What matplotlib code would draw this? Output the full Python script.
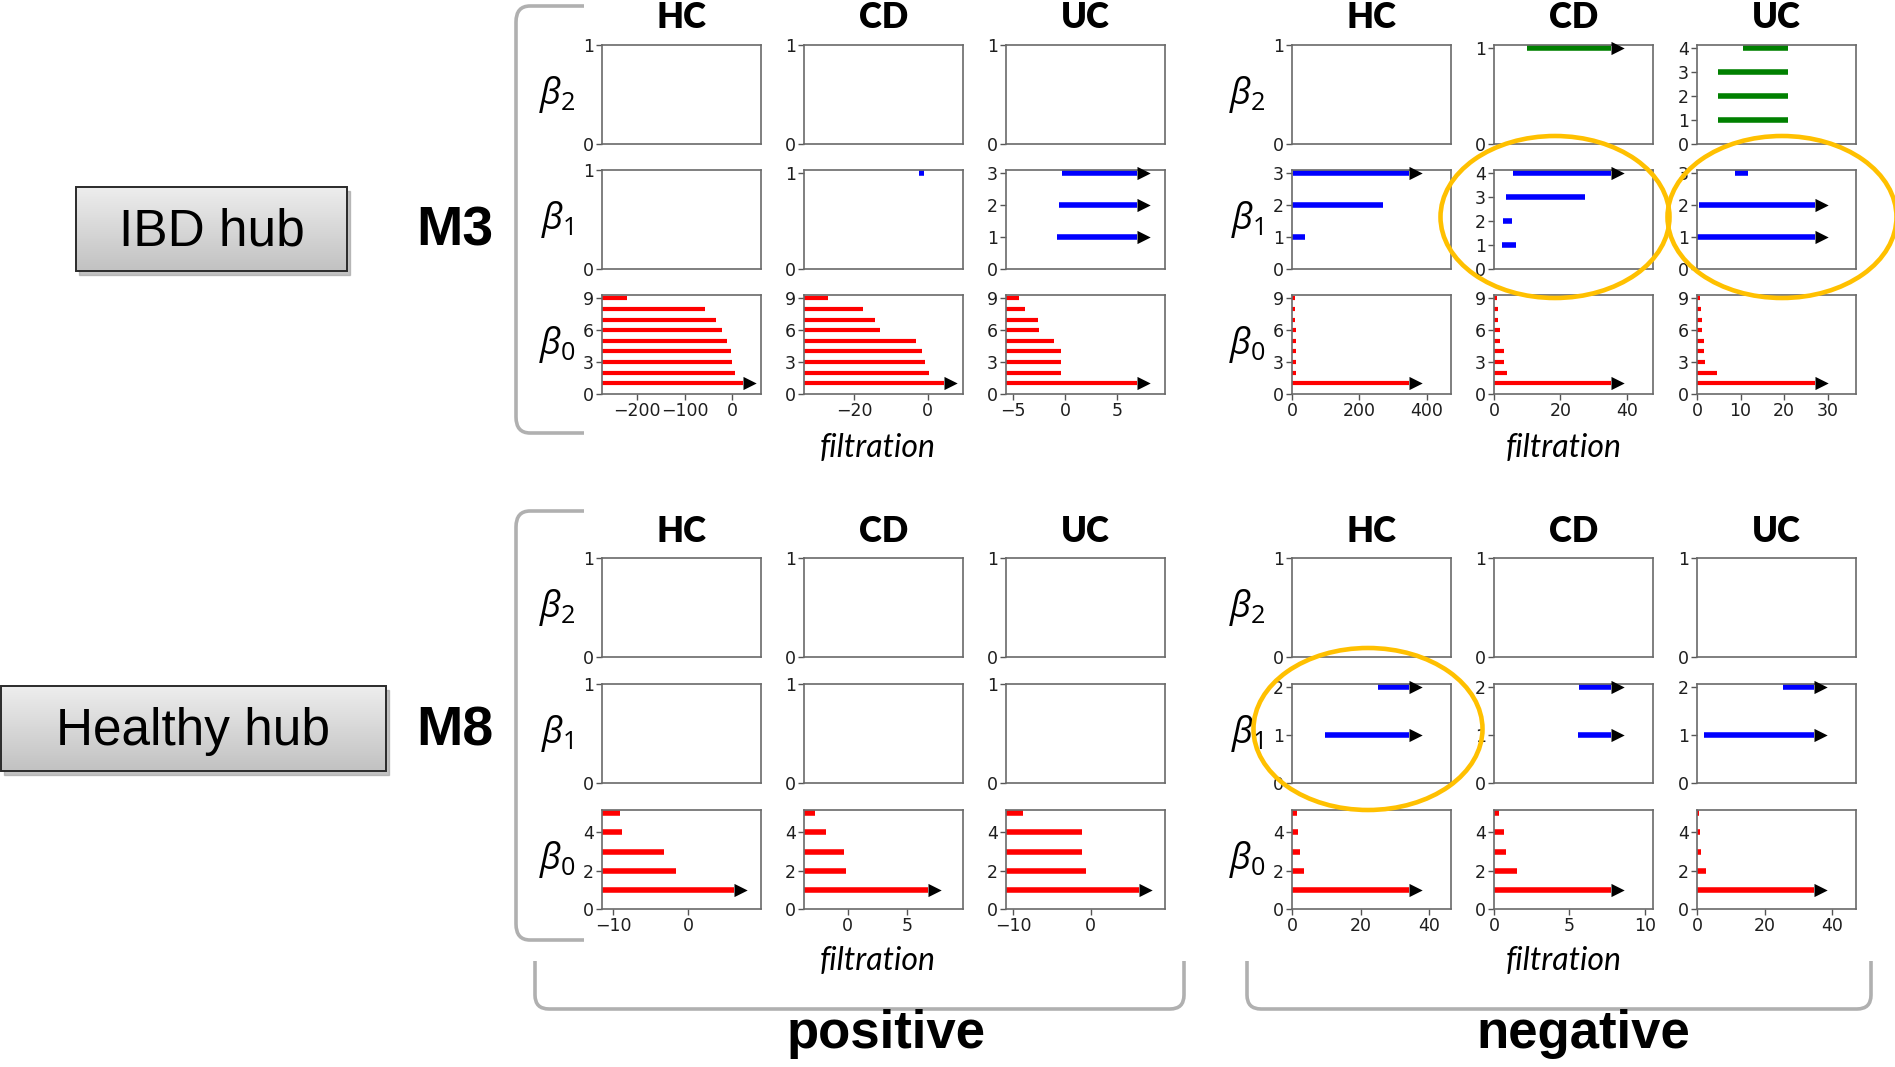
import numpy as np
import matplotlib
matplotlib.use("Agg")
import matplotlib.pyplot as plt
from matplotlib.path import Path
from matplotlib.patches import Ellipse, Rectangle, PathPatch

INF = np.inf

# ---------------- categories / labels ----------------
groups = ["HC", "CD", "UC"]
dims = [2, 1, 0]
modules = ["M3", "M8"]
hub_labels = ["IBD hub", "Healthy hub"]
signs = ["positive", "negative"]
dim_colors = {0: "#ff0000", 1: "#0000ff", 2: "#008000"}

# ================= M3, positive filtration =================
m3_pos_xlim = [(-273, 60), (-33.6, 9.6), (-5.64, 9.58)]
m3_pos_inf_end = [22, 4.5, 6.9]
m3_pos_xticks = [[-200, -100, 0], [-20, 0], [-5, 0, 5]]
m3_pos_HC_b0_birth = [-273] * 9
m3_pos_HC_b0_death = [INF, 5, -1, -3, -11, -22, -35, -58, -220]
m3_pos_CD_b0_birth = [-33.6] * 9
m3_pos_CD_b0_death = [INF, 0.3, -0.8, -1.6, -3.3, -12.9, -14.2, -17.7, -27.0]
m3_pos_CD_b1_birth = [-2.25]
m3_pos_CD_b1_death = [-0.95]
m3_pos_UC_b0_birth = [-5.64] * 9
m3_pos_UC_b0_death = [INF, -0.4, -0.4, -0.4, -1.05, -2.5, -2.55, -3.8, -4.4]
m3_pos_UC_b1_birth = [-0.73, -0.6, -0.3]
m3_pos_UC_b1_death = [INF, INF, INF]

# ================= M3, negative filtration =================
m3_neg_xlim = [(0, 472), (0, 47.9), (0, 36.5)]
m3_neg_inf_end = [346, 35.3, 27.1]
m3_neg_xticks = [[0, 200, 400], [0, 20, 40], [0, 10, 20, 30]]
m3_neg_HC_b0_birth = [0] * 9
m3_neg_HC_b0_death = [INF, 12, 11, 11, 10.5, 10.5, 10, 10, 9.5]
m3_neg_HC_b1_birth = [0, 0, 4]
m3_neg_HC_b1_death = [40, 269, INF]
m3_neg_CD_b0_birth = [0] * 9
m3_neg_CD_b0_death = [INF, 3.8, 3.1, 3.0, 1.8, 1.8, 1.3, 1.1, 1.0]
m3_neg_CD_b1_birth = [2.3, 2.8, 3.7, 5.6]
m3_neg_CD_b1_death = [6.5, 5.4, 27.4, INF]
m3_neg_CD_b2_birth = [10.0]
m3_neg_CD_b2_death = [INF]
m3_neg_UC_b0_birth = [0] * 9
m3_neg_UC_b0_death = [INF, 4.6, 1.8, 1.6, 1.5, 1.15, 1.15, 0.85, 0.77]
m3_neg_UC_b1_birth = [0, 0.4, 8.8]
m3_neg_UC_b1_death = [INF, INF, 11.7]
m3_neg_UC_b2_birth = [4.8, 4.8, 4.8, 10.5]
m3_neg_UC_b2_death = [20.8, 20.8, 20.8, 20.8]

# ================= M8, positive filtration =================
m8_pos_xlim = [(-11.47, 9.64), (-3.67, 9.67), (-10.95, 9.6)]
m8_pos_inf_end = [6.1, 6.7, 6.2]
m8_pos_xticks = [[-10, 0], [0, 5], [-10, 0]]
m8_pos_HC_b0_birth = [-11.47] * 5
m8_pos_HC_b0_death = [INF, -1.7, -3.3, -8.8, -9.1]
m8_pos_CD_b0_birth = [-3.67] * 5
m8_pos_CD_b0_death = [INF, -0.14, -0.28, -1.83, -2.78]
m8_pos_UC_b0_birth = [-10.95] * 5
m8_pos_UC_b0_death = [INF, -0.6, -1.16, -1.16, -8.7]

# ================= M8, negative filtration =================
m8_neg_xlim = [(0, 46.3), (0, 10.54), (0, 47.1)]
m8_neg_inf_end = [34.2, 7.74, 34.7]
m8_neg_xticks = [[0, 20, 40], [0, 5, 10], [0, 20, 40]]
m8_neg_HC_b0_birth = [0] * 5
m8_neg_HC_b0_death = [INF, 3.4, 2.2, 1.85, 1.45]
m8_neg_HC_b1_birth = [9.7, 25.1]
m8_neg_HC_b1_death = [INF, INF]
m8_neg_CD_b0_birth = [0] * 5
m8_neg_CD_b0_death = [INF, 1.55, 0.8, 0.63, 0.34]
m8_neg_CD_b1_birth = [5.6, 5.65]
m8_neg_CD_b1_death = [INF, INF]
m8_neg_UC_b0_birth = [0] * 5
m8_neg_UC_b0_death = [INF, 2.7, 1.2, 1.0, 0.7]
m8_neg_UC_b1_birth = [2.2, 25.4]
m8_neg_UC_b1_death = [INF, INF]

# ---------------- assemble lookup tables ----------------
bars = {
    ("M3", "positive", "HC", 0): (m3_pos_HC_b0_birth, m3_pos_HC_b0_death),
    ("M3", "positive", "CD", 0): (m3_pos_CD_b0_birth, m3_pos_CD_b0_death),
    ("M3", "positive", "CD", 1): (m3_pos_CD_b1_birth, m3_pos_CD_b1_death),
    ("M3", "positive", "UC", 0): (m3_pos_UC_b0_birth, m3_pos_UC_b0_death),
    ("M3", "positive", "UC", 1): (m3_pos_UC_b1_birth, m3_pos_UC_b1_death),
    ("M3", "negative", "HC", 0): (m3_neg_HC_b0_birth, m3_neg_HC_b0_death),
    ("M3", "negative", "HC", 1): (m3_neg_HC_b1_birth, m3_neg_HC_b1_death),
    ("M3", "negative", "CD", 0): (m3_neg_CD_b0_birth, m3_neg_CD_b0_death),
    ("M3", "negative", "CD", 1): (m3_neg_CD_b1_birth, m3_neg_CD_b1_death),
    ("M3", "negative", "CD", 2): (m3_neg_CD_b2_birth, m3_neg_CD_b2_death),
    ("M3", "negative", "UC", 0): (m3_neg_UC_b0_birth, m3_neg_UC_b0_death),
    ("M3", "negative", "UC", 1): (m3_neg_UC_b1_birth, m3_neg_UC_b1_death),
    ("M3", "negative", "UC", 2): (m3_neg_UC_b2_birth, m3_neg_UC_b2_death),
    ("M8", "positive", "HC", 0): (m8_pos_HC_b0_birth, m8_pos_HC_b0_death),
    ("M8", "positive", "CD", 0): (m8_pos_CD_b0_birth, m8_pos_CD_b0_death),
    ("M8", "positive", "UC", 0): (m8_pos_UC_b0_birth, m8_pos_UC_b0_death),
    ("M8", "negative", "HC", 0): (m8_neg_HC_b0_birth, m8_neg_HC_b0_death),
    ("M8", "negative", "HC", 1): (m8_neg_HC_b1_birth, m8_neg_HC_b1_death),
    ("M8", "negative", "CD", 0): (m8_neg_CD_b0_birth, m8_neg_CD_b0_death),
    ("M8", "negative", "CD", 1): (m8_neg_CD_b1_birth, m8_neg_CD_b1_death),
    ("M8", "negative", "UC", 0): (m8_neg_UC_b0_birth, m8_neg_UC_b0_death),
    ("M8", "negative", "UC", 1): (m8_neg_UC_b1_birth, m8_neg_UC_b1_death),
}
col_xlim = {("M3", "positive"): m3_pos_xlim, ("M3", "negative"): m3_neg_xlim,
            ("M8", "positive"): m8_pos_xlim, ("M8", "negative"): m8_neg_xlim}
col_inf = {("M3", "positive"): m3_pos_inf_end, ("M3", "negative"): m3_neg_inf_end,
           ("M8", "positive"): m8_pos_inf_end, ("M8", "negative"): m8_neg_inf_end}
col_xticks = {("M3", "positive"): m3_pos_xticks, ("M3", "negative"): m3_neg_xticks,
              ("M8", "positive"): m8_pos_xticks, ("M8", "negative"): m8_neg_xticks}

# ---------------- layout (pixels) ----------------
W, H = 1895, 1067
plt.rcParams["font.family"] = ["DejaVu Sans"]
plt.rcParams["mathtext.fontset"] = "custom"
plt.rcParams["mathtext.it"] = "Open Sans:italic"
plt.rcParams["mathtext.rm"] = "Open Sans"

fig = plt.figure(figsize=(W / 100, H / 100), dpi=100)

col_left = {"positive": [602, 804, 1006], "negative": [1292, 1494, 1697]}
row_top = {"M3": {2: 45, 1: 170, 0: 295}, "M8": {2: 558, 1: 684, 0: 810}}
PW, PH = 159, 99


def rect(x, y, w, h):
    return [x / W, 1 - (y + h) / H, w / W, h / H]


tri = Path([(0, -0.5), (1, 0), (0, 0.5), (0, -0.5)],
           [Path.MOVETO, Path.LINETO, Path.LINETO, Path.CLOSEPOLY])

for mod in modules:
    for sign in signs:
        for ci, g in enumerate(groups):
            xlim = col_xlim[(mod, sign)][ci]
            inf_end = col_inf[(mod, sign)][ci]
            for d in dims:
                ax = fig.add_axes(rect(col_left[sign][ci], row_top[mod][d], PW, PH))
                births, deaths = bars.get((mod, sign, g, d), ([], []))
                n = len(births)
                ax.set_xlim(*xlim)
                if n == 0:
                    ax.set_ylim(0, 1)
                    ax.set_yticks([0, 1])
                else:
                    ax.set_ylim(0, n * 1.035)
                    step = 1 if n <= 4 else (2 if n <= 6 else 3)
                    ax.set_yticks(list(range(0, n + 1, step)))
                lw = 3.0 if n >= 9 else 4.0
                for i, (b, e) in enumerate(zip(births, deaths)):
                    y = i + 1
                    end = inf_end if np.isinf(e) else e
                    ax.plot([b, end], [y, y], color=dim_colors[d], lw=lw,
                            solid_capstyle="butt", zorder=2)
                    if np.isinf(e):
                        ax.plot([inf_end], [y], marker=tri, ms=19, color="black",
                                mec="none", zorder=3, clip_on=False)
                if d == 0:
                    ax.set_xticks(col_xticks[(mod, sign)][ci])
                else:
                    ax.set_xticks([])
                for sp in ax.spines.values():
                    sp.set_color("#6a6a6a")
                    sp.set_linewidth(1.2)
                ax.tick_params(axis="both", labelsize=12.5, labelcolor="#1e1e1e",
                               color="#555555", length=4, width=1, pad=2)

# ---------------- overlay for annotations ----------------
ov = fig.add_axes([0, 0, 1, 1], zorder=10)
ov.set_xlim(0, W)
ov.set_ylim(H, 0)
ov.axis("off")

header_y = {"M3": 18, "M8": 532}
beta_x = {"positive": 557, "negative": 1247}
filt_y = {"M3": 448, "M8": 961}
filt_x = {"positive": 878, "negative": 1564}
for mod in modules:
    for sign in signs:
        for ci, g in enumerate(groups):
            ov.text(col_left[sign][ci] + PW / 2, header_y[mod], g, ha="center", va="center",
                    fontsize=25, fontweight="heavy", family="Lato")
        for d in dims:
            ov.text(beta_x[sign], row_top[mod][d] + PH / 2, r"$\beta_{%d}$" % d,
                    ha="center", va="center", fontsize=26)
        ov.text(filt_x[sign], filt_y[mod], "filtration", ha="center", va="center",
                fontsize=23, style="italic", family="Lato")

# module labels
mod_y = {"M3": 232, "M8": 731}
for mod in modules:
    ov.text(455, mod_y[mod], mod, ha="center", va="center", fontsize=40,
            fontweight="bold", family="Liberation Sans")

# hub boxes with gradient
hub_box = {"IBD hub": (76, 187, 271, 84), "Healthy hub": (1, 686, 385, 85)}
grad = np.linspace(0.93, 0.76, 64)[:, None, None] * np.ones((64, 2, 3))
for lab in hub_labels:
    x0, y0, bw, bh = hub_box[lab]
    ov.add_patch(Rectangle((x0 + 3, y0 + 4), bw, bh, color="#9a9a9a", alpha=0.6, zorder=1))
    ov.imshow(grad, extent=(x0, x0 + bw, y0 + bh, y0), aspect="auto", zorder=2,
              interpolation="bilinear")
    ov.add_patch(Rectangle((x0, y0), bw, bh, fill=False, ec="#2a2a2a", lw=1.4, zorder=3))
    ov.text(x0 + bw / 2, y0 + bh / 2 + 3, lab, ha="center", va="center", fontsize=37,
            family="Liberation Sans", zorder=4)
ov.set_xlim(0, W)
ov.set_ylim(H, 0)

# left brackets
br_col = "#b0b0b0"
for (ya, yb) in [(6, 433), (511, 940)]:
    v = [(584, ya), (530, ya), (516, ya), (516, ya + 16), (516, yb - 16), (516, yb),
         (530, yb), (584, yb)]
    c = [Path.MOVETO, Path.LINETO, Path.CURVE3, Path.CURVE3, Path.LINETO,
         Path.CURVE3, Path.CURVE3, Path.LINETO]
    ov.add_patch(PathPatch(Path(v, c), fill=False, ec=br_col, lw=2.6))

# bottom brackets
for (xa, xb) in [(535, 1184), (1247, 1871)]:
    v = [(xa, 961), (xa, 995), (xa, 1009), (xa + 14, 1009), (xb - 14, 1009),
         (xb, 1009), (xb, 995), (xb, 961)]
    c = [Path.MOVETO, Path.LINETO, Path.CURVE3, Path.CURVE3, Path.LINETO,
         Path.CURVE3, Path.CURVE3, Path.LINETO]
    ov.add_patch(PathPatch(Path(v, c), fill=False, ec=br_col, lw=2.6))

sign_x = {"positive": 886, "negative": 1583}
for sign in signs:
    ov.text(sign_x[sign], 1034, sign, ha="center", va="center", fontsize=38,
            fontweight="bold", family="Liberation Sans")

# highlight ellipses
for (cx, cy) in [(1555, 217), (1782, 217), (1368, 729)]:
    ov.add_patch(Ellipse((cx, cy), 229, 162, fill=False, ec="#ffc000", lw=3.3, zorder=20))

fig.savefig("out.png", dpi=100)
